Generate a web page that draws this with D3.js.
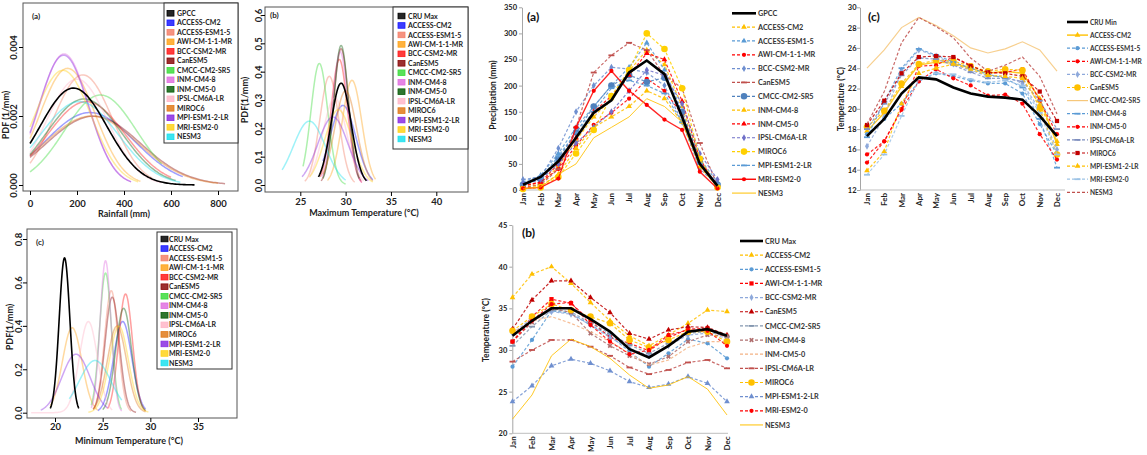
<!DOCTYPE html>
<html><head><meta charset="utf-8">
<script src="https://cdn.jsdelivr.net/npm/d3@7"></script>
<style>
body{margin:0;background:#fff;}
svg{display:block;font-family:Lato,"Open Sans",sans-serif;font-weight:bold;}
</style></head><body>
<svg id="c" width="1147" height="455"></svg>
<script>
// ---------------- DATA ----------------
const months = ["Jan","Feb","Mar","Apr","May","Jun","Jul","Aug","Sep","Oct","Nov","Dec"];
const models = ["ACCESS-CM2","ACCESS-ESM1-5","AWI-CM-1-1-MR","BCC-CSM2-MR","CanESM5","CMCC-CM2-SR5","INM-CM4-8","INM-CM5-0","IPSL-CM6A-LR","MIROC6","MPI-ESM1-2-LR","MRI-ESM2-0","NESM3"];

const rainPdfNames = ["GPCC"].concat(models);
const rainPdfMean = [185, 255, 225, 160, 240, 270, 300, 145, 230, 200, 260, 143, 140, 210];
const rainPdfSd   = [142, 190, 125, 118, 165, 200, 153, 105, 160, 130, 200, 106, 120, 165];
const rainPdfMin  = [0, 0, 0, 0, 0, 0, 0, 0, 0, 0, 0, 0, 0, 0];
const rainPdfMax  = [700, 650, 520, 470, 600, 830, 560, 430, 620, 560, 800, 430, 460, 640];
const rainPdfXTicks = [0, 200, 400, 600, 800];
const rainPdfYTicks = [0, 0.002, 0.004];

const tmaxPdfNames = ["CRU Max"].concat(models);
const tmaxPdfMean = [29.5, 29.7, 28.2, 30.7, 29.3, 29.5, 27.1, 29.4, 29.5, 28.8, 30.0, 28.6, 29.2, 26.0];
const tmaxPdfSd   = [1.11, 1.42, 1.04, 1.08, 0.90, 0.83, 0.93, 0.85, 0.81, 1.30, 1.20, 1.66, 1.50, 1.77];
const tmaxPdfMin  = [27.0, 27.5, 25.5, 28.0, 27.2, 27.3, 25.3, 27.4, 27.5, 26.0, 27.5, 25.2, 26.0, 23.0];
const tmaxPdfMax  = [32.3, 33.0, 31.0, 33.3, 31.8, 31.7, 30.0, 31.8, 31.5, 32.0, 33.0, 32.5, 33.0, 30.0];
const tmaxPdfXTicks = [25, 30, 35, 40];
const tmaxPdfYTicks = [0, 0.1, 0.2, 0.3, 0.4, 0.5, 0.6];

const tminPdfNames = ["CRU Max"].concat(models);
const tminPdfMean = [21.0, 27.1, 25.9, 21.8, 27.4, 26.0, 25.3, 25.3, 27.2, 23.5, 26.5, 22.2, 26.7, 24.2];
const tminPdfSd   = [0.56, 0.95, 0.71, 1.02, 0.73, 0.75, 0.62, 0.57, 0.83, 0.95, 1.00, 1.48, 1.00, 1.66];
const tminPdfMin  = [19.5, 24.5, 24.0, 19.5, 25.5, 24.0, 23.8, 23.8, 25.0, 17.5, 24.0, 18.5, 23.5, 21.5];
const tminPdfMax  = [22.5, 29.5, 28.0, 24.5, 29.5, 28.5, 27.0, 27.0, 29.5, 26.0, 29.5, 25.5, 29.8, 27.0];
const tminPdfXTicks = [20, 25, 30, 35];
const tminPdfYTicks = [0, 0.2, 0.4, 0.6, 0.8];

// Monthly climatology panels
const precipNames = ["GPCC"].concat(models);
const precipObs = [10, 25, 55, 100, 148, 172, 225, 248, 222, 140, 50, 8];
const precipModels = [
  [5, 12, 45, 95, 140, 175, 228, 268, 240, 160, 55, 5],
  [15, 28, 70, 120, 160, 200, 235, 282, 230, 150, 60, 15],
  [8, 15, 40, 85, 125, 148, 175, 213, 190, 145, 55, 8],
  [20, 25, 80, 150, 200, 235, 232, 225, 200, 130, 40, 10],
  [5, 10, 40, 120, 225, 258, 282, 268, 220, 195, 90, 8],
  [10, 20, 60, 110, 160, 200, 220, 207, 215, 150, 55, 10],
  [3, 8, 30, 80, 120, 140, 160, 190, 175, 130, 45, 5],
  [8, 15, 50, 100, 150, 180, 220, 262, 250, 170, 60, 5],
  [12, 20, 50, 90, 120, 150, 190, 230, 220, 165, 70, 20],
  [2, 5, 25, 70, 115, 180, 230, 300, 270, 195, 60, 5],
  [10, 22, 65, 110, 150, 195, 210, 200, 185, 130, 50, 12],
  [3, 5, 22, 120, 190, 228, 190, 163, 135, 115, 35, 3],
  [2, 6, 30, 50, 100, 120, 140, 175, 160, 130, 50, 5]
];
const precipYTicks = [0, 50, 100, 150, 200, 250, 300, 350];

const tminNames = ["CRU Min"].concat(models);
const tminObs = [17.3, 19.0, 21.5, 23.1, 22.9, 22.1, 21.5, 21.2, 21.1, 20.9, 19.3, 17.3];
const tminModels = [
  [17.8, 19.6, 22.2, 24.3, 24.6, 24.5, 24.0, 23.5, 23.7, 23.5, 21.0, 16.5],
  [17.5, 19.0, 20.5, 22.7, 23.5, 23.2, 22.8, 22.5, 22.5, 21.5, 18.5, 15.5],
  [15.5, 16.8, 20.0, 24.2, 24.3, 25.1, 24.3, 23.5, 23.6, 23.9, 20.8, 17.5],
  [16.3, 19.2, 23.8, 25.8, 25.2, 24.4, 23.8, 23.2, 23.2, 22.5, 19.9, 16.0],
  [18.2, 19.8, 22.5, 24.4, 24.8, 24.7, 24.2, 23.7, 23.9, 23.8, 20.0, 15.5],
  [24.0, 25.8, 28.0, 29.0, 28.2, 27.2, 26.0, 25.5, 25.9, 26.6, 25.8, 23.7],
  [17.2, 20.7, 24.0, 25.9, 25.3, 24.6, 24.0, 23.4, 23.0, 22.1, 19.0, 14.2],
  [14.7, 16.8, 19.9, 22.7, 23.9, 23.0, 22.3, 21.3, 21.4, 20.5, 17.5, 15.0],
  [18.0, 20.5, 23.3, 25.0, 24.9, 24.3, 23.6, 23.0, 23.0, 22.7, 20.8, 18.0],
  [18.4, 20.8, 23.5, 25.1, 25.2, 25.1, 24.2, 23.6, 23.5, 23.2, 21.7, 18.8],
  [13.9, 15.8, 20.5, 23.5, 24.0, 24.4, 23.9, 23.3, 23.2, 23.0, 20.4, 16.8],
  [13.5, 15.5, 19.3, 22.9, 23.5, 23.4, 22.9, 22.6, 22.8, 22.3, 19.6, 15.5],
  [18.5, 21.7, 26.5, 29.0, 28.1, 27.0, 25.0, 23.7, 24.3, 25.1, 23.2, 19.5]
];
const tminYTicks = [12, 14, 16, 18, 20, 22, 24, 26, 28, 30];

const tmaxNames = ["CRU Max"].concat(models);
const tmaxObs = [31.7, 33.5, 35.0, 35.0, 33.7, 32.2, 30.1, 29.1, 30.5, 32.2, 32.5, 31.7];
const tmaxModels = [
  [36.3, 39.1, 40.0, 38.0, 35.7, 33.5, 31.7, 30.5, 31.8, 33.2, 34.8, 34.6],
  [28.0, 31.2, 34.7, 34.4, 33.0, 31.7, 29.8, 28.0, 29.6, 31.3, 30.8, 29.0],
  [31.0, 34.0, 36.1, 35.6, 33.5, 31.5, 30.8, 29.9, 31.5, 32.5, 32.6, 31.5],
  [32.0, 33.8, 34.6, 34.3, 33.0, 31.5, 30.2, 29.3, 30.5, 31.8, 32.0, 31.4],
  [32.5, 36.0, 38.3, 38.3, 36.3, 34.5, 32.0, 31.3, 32.4, 32.8, 32.7, 31.8],
  [30.5, 32.8, 34.8, 34.6, 33.2, 32.0, 30.6, 29.6, 30.8, 32.0, 32.2, 31.6],
  [31.0, 33.3, 35.0, 34.5, 32.0, 30.5, 29.3, 28.3, 29.2, 31.0, 31.8, 31.7],
  [32.0, 33.5, 34.0, 33.2, 32.2, 31.0, 29.6, 28.2, 28.8, 30.3, 31.0, 31.0],
  [28.6, 30.0, 31.2, 31.2, 30.4, 29.3, 27.9, 27.1, 27.6, 28.5, 28.8, 27.8],
  [32.3, 34.0, 35.5, 34.8, 34.0, 33.2, 31.2, 30.3, 31.2, 32.2, 32.2, 31.0],
  [23.8, 25.7, 28.1, 28.9, 28.4, 27.5, 26.2, 25.5, 25.9, 26.8, 26.0, 23.8],
  [31.0, 33.5, 35.5, 35.7, 33.0, 31.0, 29.5, 30.0, 31.8, 32.4, 32.3, 30.5],
  [21.7, 24.6, 29.3, 31.3, 30.4, 29.0, 27.0, 25.4, 25.8, 26.8, 25.3, 22.2]
];
const tmaxYTicks = [20, 25, 30, 35, 40, 45];

// ---------------- STYLES ----------------
const FONT = 'Lato, "Open Sans", sans-serif';
const pdfColors = ["#000000","#1a1aff","#f4806a","#ffa41c","#ff1a1a","#8b0a0a","#3ddc3d","#e070e0","#0b5e0b","#ffb6c8","#e07a1a","#8a2be2","#ffd21a","#1ae0ee"];

const precipStyles = [
  {c:"#000",w:2.6},
  {c:"#ffc000",d:"3,2",m:"tri"},
  {c:"#5b9bd5",d:"3,2",m:"tri"},
  {c:"#ff0000",d:"3,2",m:"circle"},
  {c:"#6f8fd0",d:"3,2",m:"diamond"},
  {c:"#c0504d",d:"3,2",m:"dash"},
  {c:"#4f81bd",d:"3,2",m:"bigcircle"},
  {c:"#ffc000",d:"3,2",m:"tri"},
  {c:"#ff0000",d:"3,2",m:"tri"},
  {c:"#7070c8",d:"3,2",m:"diamond"},
  {c:"#ffd000",d:"3,2",m:"bigcircle"},
  {c:"#5b9bd5",d:"3,2",m:"dash"},
  {c:"#ff0000",m:"circle",w:1.4},
  {c:"#ffc000",w:1}
];
const tminStyles = [
  {c:"#000",w:2.6},
  {c:"#ffc000",m:"tri",w:1.4},
  {c:"#5b9bd5",d:"3,2",m:"circle"},
  {c:"#ff0000",d:"3,2",m:"circle"},
  {c:"#8ea9db",d:"3,2",m:"diamond"},
  {c:"#ffc000",d:"3,2",m:"bigcircle"},
  {c:"#f6c77a",w:1.2},
  {c:"#5b9bd5",d:"3,2",m:"dash"},
  {c:"#ff0000",d:"3,2",m:"circle"},
  {c:"#7f8fbf",d:"3,2",m:"dash"},
  {c:"#c00000",d:"3,2",m:"square"},
  {c:"#ffc000",d:"3,2",m:"tri"},
  {c:"#9dc3e6",d:"3,2",m:"dash"},
  {c:"#c0504d",d:"3,2"}
];
const tmaxStyles = [
  {c:"#000",w:2.6},
  {c:"#ffc000",d:"3,2",m:"tri"},
  {c:"#5b9bd5",d:"3,2",m:"circle"},
  {c:"#ff0000",d:"3,2",m:"square"},
  {c:"#8ea9db",d:"3,2",m:"diamond"},
  {c:"#c00000",d:"3,2",m:"tri"},
  {c:"#8497b0",d:"3,2",m:"dash"},
  {c:"#b07070",d:"3,2",m:"x"},
  {c:"#f4b183",d:"3,2"},
  {c:"#c0504d",d:"3,2",m:"dash"},
  {c:"#ffc000",d:"3,2",m:"bigcircle"},
  {c:"#6f8fcf",d:"3,2",m:"tri"},
  {c:"#ff0000",d:"3,2",m:"circle"},
  {c:"#ffc000",w:1}
];

const svg = d3.select("#c");
svg.append("rect").attr("width",1147).attr("height",455).attr("fill","#fff");

// ---------------- PDF PANELS (R style) ----------------
function pdfPanel(o){
  const g = svg.append("g");
  const x = d3.scaleLinear().domain(o.xDomain).range(o.xRange);
  const y = d3.scaleLinear().domain(o.yDomain).range(o.yRange);
  const line = d3.line().x(d=>x(d[0])).y(d=>y(d[1])).curve(d3.curveLinear);
  const order = d3.range(1, o.names.length).concat([0]);
  order.forEach(i=>{
    const pts = d3.range(0,121).map(k=>{
      const v = o.min[i] + (o.max[i]-o.min[i])*k/120;
      const z = (v-o.mean[i])/o.sd[i];
      return [v, Math.exp(-0.5*z*z)/(o.sd[i]*Math.sqrt(2*Math.PI))];
    });
    g.append("path").attr("d",line(pts)).attr("fill","none")
      .attr("stroke",pdfColors[i]).attr("stroke-width", i===0?1.6:1.5)
      .attr("stroke-opacity", i===0?1:0.42);
  });
  g.append("rect").attr("x",o.left).attr("y",o.top).attr("width",o.right-o.left).attr("height",o.bottom-o.top)
    .attr("fill","none").attr("stroke","#555").attr("stroke-width",1);
  const gx = g.append("g").attr("transform",`translate(0,${o.bottom})`)
    .call(d3.axisBottom(x).tickValues(o.xTicks).tickSize(4).tickPadding(o.xPad).tickFormat(d3.format("d")));
  gx.select(".domain").remove();
  gx.attr("font-family",FONT).attr("font-size",9.5).attr("font-weight","bold");
  gx.selectAll("text").attr("fill","#222");
  const gy = g.append("g").attr("transform",`translate(${o.left},0)`)
    .call(d3.axisLeft(y).tickValues(o.yTicks).tickSize(4).tickFormat(d3.format(o.yFmt)));
  gy.select(".domain").remove();
  gy.attr("font-family",FONT).attr("font-size",9.5).attr("font-weight","bold");
  gy.selectAll("text").attr("x",null).attr("dy",null).attr("text-anchor","middle").attr("fill","#222")
    .attr("transform",`translate(${-o.yLabOff},0) rotate(-90)`);
  g.append("text").attr("x",o.xLabelX).attr("y",o.xLabelY).attr("text-anchor","middle")
    .attr("font-size",9).attr("fill","#222").text(o.xLabel);
  g.append("text").attr("transform",`translate(${o.yLabelX},${o.yLabelY}) rotate(-90)`).attr("text-anchor","middle")
    .attr("font-size",9).attr("fill","#222").text(o.yLabel);
  g.append("text").attr("x",o.tagX).attr("y",o.tagY).attr("font-size",8).attr("fill","#222").text(o.tag);
  const L = o.legend;
  g.append("rect").attr("x",L.x).attr("y",L.y).attr("width",L.w).attr("height",L.h)
    .attr("fill","#fff").attr("stroke","#333").attr("stroke-width",1);
  o.names.forEach((n,i)=>{
    const ry = L.ry0 + i*L.dy;
    g.append("rect").attr("x",L.sw).attr("y",ry-2.8).attr("width",7).attr("height",5.6)
      .attr("fill",pdfColors[i]).attr("fill-opacity",0.85).attr("stroke",pdfColors[i]).attr("stroke-width",0.8);
    g.append("text").attr("x",L.tx).attr("y",ry+2.6).attr("font-size",7).attr("fill","#222").text(n);
  });
}

pdfPanel({names:rainPdfNames, mean:rainPdfMean, sd:rainPdfSd, min:rainPdfMin, max:rainPdfMax,
  xDomain:[0,800], xRange:[30,218], yDomain:[0,0.004], yRange:[185,47],
  left:23, right:238, top:3, bottom:191, xTicks:rainPdfXTicks, yTicks:rainPdfYTicks, yFmt:".3f",
  xPad:5, yLabOff:6,
  xLabel:"Rainfall (mm)", xLabelX:124, xLabelY:216.5, yLabel:"PDF (1/mm)", yLabelX:8.5, yLabelY:115,
  tag:"(a)", tagX:32, tagY:19,
  legend:{x:164,y:3,w:74,h:140,sw:167,tx:177,ry0:13.3,dy:9.5}});

pdfPanel({names:tmaxPdfNames, mean:tmaxPdfMean, sd:tmaxPdfSd, min:tmaxPdfMin, max:tmaxPdfMax,
  xDomain:[25,40], xRange:[300.3,436.3], yDomain:[0,0.6], yRange:[185,15],
  left:265, right:468, top:7, bottom:192, xTicks:tmaxPdfXTicks, yTicks:tmaxPdfYTicks, yFmt:".1f",
  xPad:2, yLabOff:3.5,
  xLabel:"Maximum Temperature (°C)", xLabelX:364, xLabelY:216, yLabel:"PDF(1/mm)", yLabelX:248, yLabelY:100,
  tag:"(b)", tagX:270, tagY:18,
  legend:{x:393,y:7,w:75,h:142,sw:398,tx:408,ry0:16,dy:9.46}});

pdfPanel({names:tminPdfNames, mean:tminPdfMean, sd:tminPdfSd, min:tminPdfMin, max:tminPdfMax,
  xDomain:[20,35], xRange:[55,198], yDomain:[0,0.8], yRange:[412.7,239],
  left:27, right:237, top:229, bottom:418, xTicks:tminPdfXTicks, yTicks:tminPdfYTicks, yFmt:".1f",
  xPad:1.5, yLabOff:5,
  xLabel:"Minimum Temperature (°C)", xLabelX:129, xLabelY:444, yLabel:"PDF(1/mm)", yLabelX:13, yLabelY:327,
  tag:"(c)", tagX:36, tagY:245,
  legend:{x:157,y:232,w:75,h:137,sw:161,tx:169,ry0:239,dy:9.54}});

// ---------------- MONTHLY PANELS (Excel style) ----------------
function drawMarker(g, type, cx, cy, color){
  if(!type) return;
  if(type==="dash"){
    g.append("rect").attr("x",cx-3).attr("y",cy-0.9).attr("width",6).attr("height",1.8).attr("fill",color);
    return;
  }
  const map = {tri:[d3.symbolTriangle,14], circle:[d3.symbolCircle,14], bigcircle:[d3.symbolCircle,34],
    diamond:[d3.symbolDiamond,14], square:[d3.symbolSquare,18], x:[d3.symbolCross,14]};
  const s = map[type];
  g.append("path").attr("d",d3.symbol().type(s[0]).size(s[1])())
    .attr("transform",`translate(${cx},${cy})${type==="x"?" rotate(45)":""}`)
    .attr("fill",color);
}

function excelPanel(o){
  const g = svg.append("g");
  const x = d3.scalePoint().domain(months).range(o.xRange);
  const y = d3.scaleLinear().domain(o.yDomain).range(o.yRange);
  const gy = g.append("g").attr("transform",`translate(${o.axisX},0)`)
    .call(d3.axisLeft(y).tickValues(o.yTicks).tickSize(3).tickSizeOuter(0).tickPadding(o.yPad));
  gy.select(".domain").attr("stroke","#a6a6a6");
  gy.selectAll(".tick line").attr("stroke","#a6a6a6");
  gy.attr("font-family",FONT).attr("font-size",7.5).attr("font-weight","bold");
  gy.selectAll("text").attr("fill","#222");
  g.append("line").attr("x1",o.axisX).attr("x2",o.xAxisEnd).attr("y1",o.yRange[0]).attr("y2",o.yRange[0])
    .attr("stroke","#bfbfbf");
  months.forEach(m=>{
    g.append("text").attr("transform",`translate(${x(m)+3},${o.yRange[0]+3}) rotate(-90)`)
      .attr("text-anchor","end").attr("font-size",8).attr("fill","#222").text(m);
  });
  g.append("text").attr("transform",`translate(${o.yLabelX},${o.yLabelY}) rotate(-90)`).attr("text-anchor","middle")
    .attr("font-size",8.5).attr("fill","#222").text(o.yLabel);
  g.append("text").attr("x",o.tagX).attr("y",o.tagY).attr("font-size",12).attr("fill","#111").text(o.tag);
  const line = d3.line().x((d,i)=>x(months[i])).y(d=>y(d));
  const all = [o.obs].concat(o.models);
  const order = d3.range(1, all.length).concat([0]);
  order.forEach(i=>{
    const st = o.styles[i];
    g.append("path").attr("d",line(all[i])).attr("fill","none").attr("stroke",st.c)
      .attr("stroke-width",st.w||1.2).attr("stroke-dasharray",st.d||null)
      .attr("stroke-opacity", i===0?1:0.85);
    if(st.m) all[i].forEach((v,k)=>drawMarker(g, st.m, x(months[k]), y(v), st.c));
  });
  o.names.forEach((n,i)=>{
    const st = o.styles[i];
    const ry = o.lg.y0 + i*o.lg.dy;
    g.append("line").attr("x1",o.lg.x).attr("x2",o.lg.x+o.lg.len).attr("y1",ry).attr("y2",ry)
      .attr("stroke",st.c).attr("stroke-width",st.w||1.2).attr("stroke-dasharray",st.d||null);
    if(st.m) drawMarker(g, st.m, o.lg.x+o.lg.len/2, ry, st.c);
    g.append("text").attr("x",o.lg.x+o.lg.len+2).attr("y",ry+2.6).attr("font-size",o.lg.fs).attr("fill","#333").text(n);
  });
}

excelPanel({names:precipNames, obs:precipObs, models:precipModels, styles:precipStyles,
  xRange:[523,717.5], axisX:522, xAxisEnd:718, yDomain:[0,350], yRange:[190,7.3], yTicks:precipYTicks, yPad:2,
  yLabel:"Precipitation (mm)", yLabelX:496, yLabelY:95, tag:"(a)", tagX:527, tagY:21,
  lg:{x:732,len:24,y0:13.3,dy:13.83,fs:7.3}});

excelPanel({names:tminNames, obs:tminObs, models:tminModels, styles:tminStyles,
  xRange:[867,1057], axisX:860, xAxisEnd:1065, yDomain:[12,30], yRange:[190,7.3], yTicks:tminYTicks, yPad:0.5,
  yLabel:"Temperature (°C)", yLabelX:844, yLabelY:99, tag:"(c)", tagX:868, tagY:21,
  lg:{x:1067,len:21,y0:22,dy:13.1,fs:6.6}});

excelPanel({names:tmaxNames, obs:tmaxObs, models:tmaxModels, styles:tmaxStyles,
  xRange:[512.5,727], axisX:512.3, xAxisEnd:728, yDomain:[20,45], yRange:[433.3,225], yTicks:tmaxYTicks, yPad:2,
  yLabel:"Temperature (°C)", yLabelX:489, yLabelY:330, tag:"(b)", tagX:522, tagY:237,
  lg:{x:740,len:23,y0:241,dy:14.15,fs:7.3}});
</script></body></html>
